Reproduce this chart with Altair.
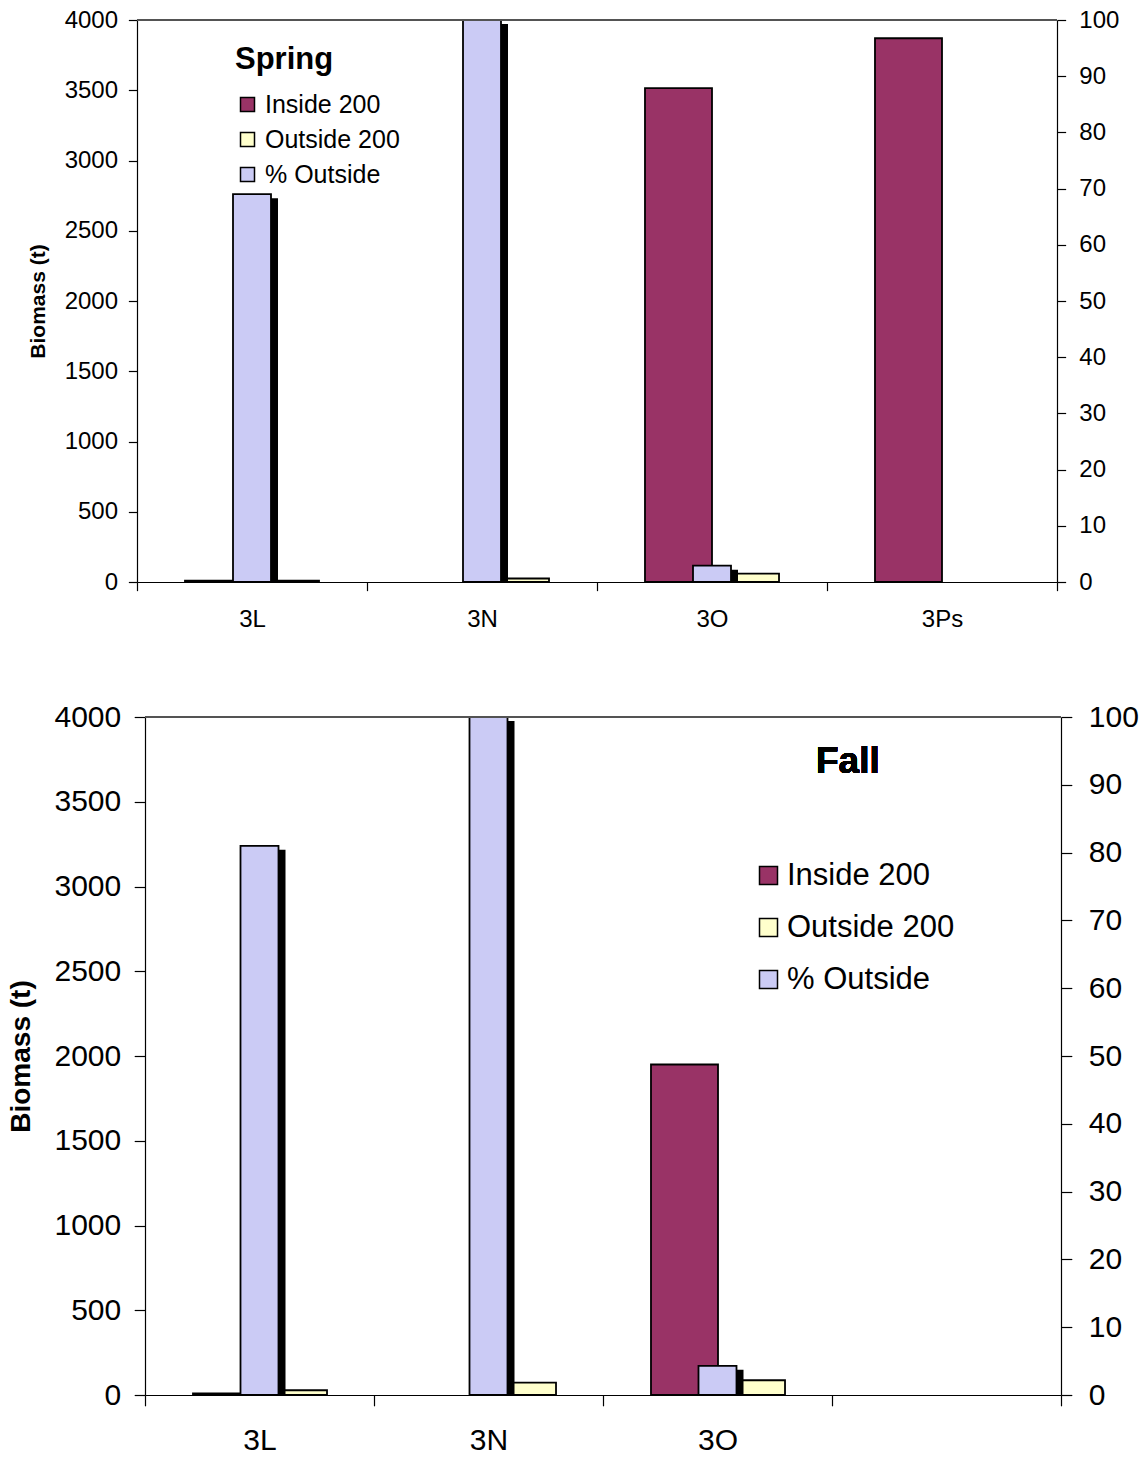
import altair as alt
import pandas as pd

# Survey areas (NAFO divisions) and the three series plotted for each
categories = ["3L", "3N", "3O", "3Ps"]
series_names = ["Inside 200", "Outside 200", "% Outside"]
series_colors = ["#993366", "#FFFFCC", "#CBCBF5"]

# Spring survey: biomass (t) inside / outside 200 miles, and % outside
spring_inside = [10, 0, 3515, 3870]
spring_outside = [10, 25, 60, 0]
spring_pct = [69, 100, 2.9, 0]

# Fall survey (3Ps not surveyed)
fall_inside = [10, 0, 1950, 0]
fall_outside = [28, 73, 87, 0]
fall_pct = [81, 100, 4.3, 0]

FONT = "Liberation Sans"


def long_table(inside, outside, pct):
    rows = []
    for area, i, o, p in zip(categories, inside, outside, pct):
        rows.append({"area": area, "series": "Inside 200", "value": i})
        rows.append({"area": area, "series": "Outside 200", "value": o})
        rows.append({"area": area, "series": "% Outside", "value": p})
    return pd.DataFrame(rows)


def panel(df, w, h, x_start, tick_fs, title_fs, title_pad, x_label_pad,
          legend_cfg, hide_labels=(), heading=None):
    x_end = x_start + w
    label_expr = "datum.label"
    if hide_labels:
        cond = " || ".join(f"datum.label == '{c}'" for c in hide_labels)
        label_expr = f"({cond}) ? '' : datum.label"

    x_enc = alt.X(
        "area:N",
        sort=categories,
        scale=alt.Scale(domain=categories, paddingInner=0, paddingOuter=0,
                        range=[x_start, x_end]),
        axis=alt.Axis(title=None, tickBand="extent", labelAngle=0,
                      labelFontSize=tick_fs, labelPadding=x_label_pad,
                      tickSize=tick_fs * 0.36, tickColor="black",
                      domainColor="black", domainWidth=1.2, tickWidth=1.2,
                      labelColor="black", labelExpr=label_expr),
    )

    color = alt.Color(
        "series:N",
        scale=alt.Scale(domain=series_names, range=series_colors),
        legend=alt.Legend(**legend_cfg),
    )

    base = alt.Chart(df)

    biomass = base.transform_filter(
        "datum.series != '% Outside' && datum.value > 0"
    ).mark_bar(stroke="black", strokeWidth=1.8).encode(
        x=x_enc,
        xOffset=alt.XOffset(
            "series:N",
            scale=alt.Scale(domain=["Inside 200", "Outside 200"],
                            paddingInner=0, paddingOuter=0.716),
        ),
        y=alt.Y(
            "value:Q",
            scale=alt.Scale(domain=[0, 4000], nice=False),
            axis=alt.Axis(
                values=list(range(0, 4001, 500)), format="d",
                title="Biomass (t)", orient="left", offset=-x_start, grid=False,
                labelFontSize=tick_fs, labelPadding=tick_fs * 0.45,
                tickSize=tick_fs * 0.36, tickColor="black", tickWidth=1.2,
                domainColor="black", domainWidth=1.2, labelColor="black",
                titleFontSize=title_fs, titleFontWeight="bold",
                titleColor="black", titlePadding=title_pad,
            ),
        ),
        color=color,
    )

    pct_filter = "datum.series == '% Outside' && datum.value > 0"

    # drop shadow behind the % bars, offset right and down, resting on the axis
    shadow = base.transform_filter(pct_filter).mark_bar(
        width=38, color="black", xOffset=7, yOffset=4, y2Offset=0
    ).encode(
        x=x_enc,
        y=alt.Y("value:Q", scale=alt.Scale(domain=[0, 100], nice=False), axis=None),
        y2=alt.Y2(datum=0),
    )

    pct = base.transform_filter(pct_filter).mark_bar(
        width=38, stroke="black", strokeWidth=1.8
    ).encode(
        x=x_enc,
        y=alt.Y(
            "value:Q",
            scale=alt.Scale(domain=[0, 100], nice=False),
            axis=alt.Axis(
                values=list(range(0, 101, 10)), format="d", title=None,
                orient="right", grid=False, labelFontSize=tick_fs,
                labelPadding=tick_fs * 0.55, tickSize=tick_fs * 0.36,
                tickColor="black", tickWidth=1.2, domainColor="black",
                domainWidth=1.2, labelColor="black",
            ),
        ),
        color=color,
    )

    frame_top = alt.Chart(df).mark_rule(color="#555555", strokeWidth=1.2).encode(
        x=alt.value(x_start), x2=alt.value(x_end), y=alt.value(0)
    )

    layers = [biomass, shadow, pct, frame_top]
    if heading is not None:
        text, hx, hy, hsize = heading
        layers.append(
            alt.Chart(df).mark_text(
                text=text, font=FONT, fontSize=hsize, fontWeight="bold",
                align="left", baseline="alphabetic", color="black",
            ).encode(x=alt.value(hx), y=alt.value(hy))
        )

    return alt.layer(*layers).resolve_scale(
        y="independent"
    ).properties(width=x_end, height=h)


spring_legend = dict(
    orient="none", legendX=98, legendY=25, padding=0, labelLimit=0,
    title="Spring", titleFontSize=31, titleFontWeight="bold", titleColor="black",
    titleFont=FONT, titlePadding=16, titleAnchor="start",
    symbolType="square", symbolSize=196, symbolStrokeColor="black",
    symbolStrokeWidth=1.5, labelFontSize=25, labelFont=FONT, labelColor="black",
    rowPadding=9, labelOffset=5,
)

fall_legend = dict(
    orient="none", legendX=616, legendY=143, padding=0, labelLimit=0,
    title=None,
    symbolType="square", symbolSize=324, symbolStrokeColor="black",
    symbolStrokeWidth=1.5, labelFontSize=31, labelFont=FONT, labelColor="black",
    rowPadding=20, labelOffset=3,
)

spring = panel(long_table(spring_inside, spring_outside, spring_pct),
               920, 562, 0, 24, 21, 16, 17, spring_legend)
fall = panel(long_table(fall_inside, fall_outside, fall_pct),
             916, 678, 8, 30, 28, 18, 20, fall_legend, hide_labels=("3Ps",),
             heading=("Fall", 679, 56, 37))

chart = alt.vconcat(spring, fall, spacing=135, bounds="flush").resolve_scale(
    color="independent"
).resolve_legend(color="independent").properties(
    padding={"left": 7, "top": 8, "right": 0, "bottom": 0}
).configure_view(stroke=None).configure_axis(
    labelFont=FONT, titleFont=FONT
).configure_legend(labelFont=FONT, titleFont=FONT)

chart.save("out.html", embed_options={"renderer": "svg", "actions": False})
